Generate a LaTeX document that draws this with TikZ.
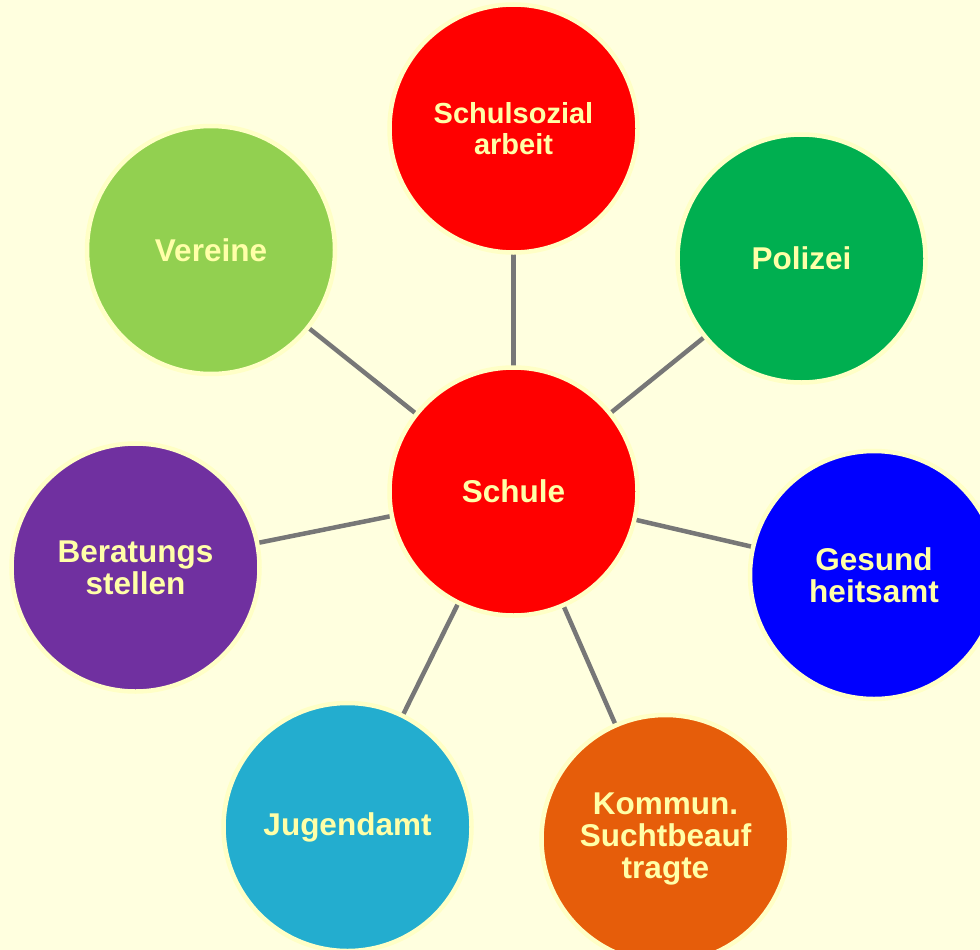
\documentclass[tikz,border=0pt]{standalone}
\usepackage{fontspec}
\setmainfont{Liberation Sans}
\usetikzlibrary{backgrounds}
\definecolor{bgc}{HTML}{FFFFDF}
\definecolor{ringc}{HTML}{FFFFC6}
\definecolor{txtc}{HTML}{FFFFA8}
\definecolor{linec}{HTML}{777777}
\definecolor{cred}{HTML}{FF0000}
\definecolor{cgreen}{HTML}{00AF50}
\definecolor{cblue}{HTML}{0000FF}
\definecolor{corange}{HTML}{E65D0A}
\definecolor{ccyan}{HTML}{23ADCF}
\definecolor{cpurple}{HTML}{7030A0}
\definecolor{clgreen}{HTML}{92D050}
\tikzset{
  bubble/.style={circle, minimum size=248pt, inner sep=0pt, draw=ringc, line width=4.5pt,
    text=txtc, font=\fontsize{31.5}{32.3}\selectfont\bfseries, align=center},
  link/.style={draw=linec, line width=4.5pt}
}
\begin{document}
\begin{tikzpicture}[x=1pt,y=-1pt]
\useasboundingbox (0,0) rectangle (980,950);
\begin{scope}
\clip (0,0) rectangle (980,950);
\node[bubble, fill=cred] (schule) at (513.5,491.5) {Schule};
\node[bubble, fill=cred, font=\fontsize{29}{31}\selectfont\bfseries] (sozial) at (513.5,128.5) {Schulsozial\\arbeit};
\node[bubble, fill=cgreen] (polizei) at (801.5,258.5) {Polizei};
\node[bubble, fill=cblue] (gesund) at (874,575) {Gesund\\heitsamt};
\node[bubble, fill=corange] (kommun) at (665.5,839) {Kommun.\\Suchtbeauf\\tragte};
\node[bubble, fill=ccyan] (jugend) at (347.5,827) {Jugendamt};
\node[bubble, fill=cpurple] (beratung) at (135.5,567.5) {Beratungs\\stellen};
\node[bubble, fill=clgreen] (vereine) at (211,250) {Vereine};
\begin{scope}[on background layer]
\fill[bgc] (0,0) rectangle (980,950);
\foreach \n in {sozial,polizei,gesund,kommun,jugend,beratung,vereine}
  \draw[link] (schule.center) -- (\n.center);
\end{scope}
\end{scope}
\end{tikzpicture}
\end{document}
